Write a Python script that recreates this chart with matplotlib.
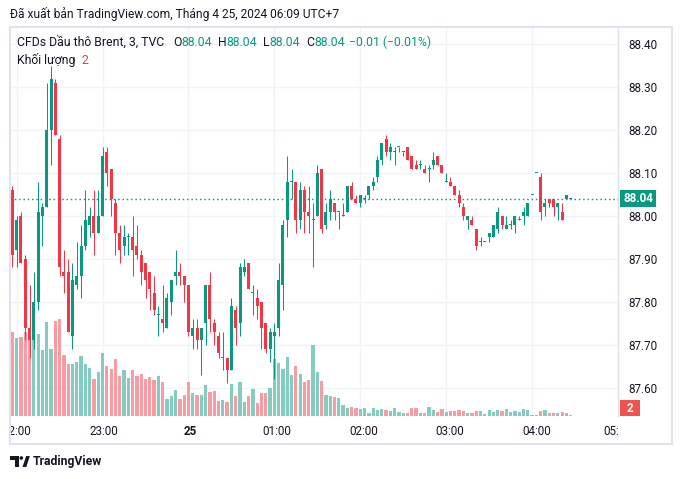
import numpy as np
import matplotlib
matplotlib.use("Agg")
import matplotlib.pyplot as plt
from matplotlib.patches import Rectangle, Polygon, Circle
from matplotlib.transforms import IdentityTransform

plt.rcParams['font.family'] = ['Roboto', 'DejaVu Sans']

# Brent CFD, 3-minute bars. bar 0 = 22:00, the first bar shown is 21:57
first_bar = -1

opens = [88.06, 87.92, 88.00, 87.90, 87.74, 87.71, 87.80, 88.00, 88.02, 88.20,
         88.31, 88.18, 87.87, 87.87, 87.72, 87.84, 87.86, 87.93, 87.98, 88.00,
         87.96, 88.00, 88.15, 88.11, 88.03, 87.96, 87.93, 87.95, 87.95, 87.93,
         87.91, 87.89, 87.87, 87.82, 87.77, 87.76, 87.74, 87.80, 87.86, 87.87,
         87.86, 87.84, 87.72, 87.74, 87.71, 87.75, 87.84, 87.75, 87.72, 87.67,
         87.67, 87.64, 87.78, 87.75, 87.87, 87.89, 87.82, 87.81, 87.80, 87.75,
         87.69, 87.72, 87.74, 87.84, 87.99, 88.08, 88.08, 87.99, 88.06, 88.01,
         87.99, 88.00, 88.11, 87.98, 88.01, 88.03, 88.01, 88.00, 88.01, 88.07,
         88.04, 88.03, 88.04, 88.05, 88.07, 88.09, 88.13, 88.18, 88.15, 88.15,
         88.16, 88.15, 88.16, 88.14, 88.12, 88.12, 88.11, 88.11, 88.12, 88.14,
         88.12, 88.08, 88.08, 88.07, 88.05, 88.02, 87.99, 87.99, 87.97, 87.94,
         87.94, 87.95, 87.95, 87.97, 88.00, 87.97, 87.98, 87.98, 87.99, 88.00,
         88.00, 88.05, 88.10, 88.09, 88.02, 88.04, 88.04, 88.02, 88.01, 88.04,
         88.04]
highs = [88.07, 88.00, 88.01, 87.91, 87.84, 87.87, 88.08, 88.03, 88.31, 88.35,
         88.32, 88.19, 87.92, 87.90, 87.89, 87.94, 87.98, 88.06, 88.02, 88.06,
         88.06, 88.16, 88.16, 88.11, 88.04, 87.98, 87.98, 87.96, 88.00, 87.98,
         87.92, 87.89, 87.87, 87.86, 87.79, 87.84, 87.82, 87.85, 87.92, 87.89,
         87.86, 87.84, 87.76, 87.76, 87.74, 87.84, 87.87, 87.76, 87.73, 87.73,
         87.67, 87.81, 87.79, 87.89, 87.90, 87.89, 87.84, 87.83, 87.80, 87.75,
         87.74, 87.75, 87.89, 87.99, 88.14, 88.11, 88.08, 88.08, 88.07, 88.07,
         88.03, 88.12, 88.11, 88.03, 88.06, 88.03, 88.01, 88.03, 88.07, 88.08,
         88.05, 88.05, 88.05, 88.07, 88.09, 88.14, 88.17, 88.19, 88.17, 88.16,
         88.16, 88.15, 88.16, 88.14, 88.13, 88.13, 88.12, 88.12, 88.15, 88.14,
         88.12, 88.10, 88.09, 88.07, 88.06, 88.03, 88.00, 88.00, 87.97, 87.95,
         87.94, 87.96, 87.98, 88.02, 88.00, 88.00, 87.99, 88.00, 88.00, 88.02,
         88.03, 88.05, 88.10, 88.10, 88.04, 88.04, 88.04, 88.03, 88.03, 88.05,
         88.04]
lows = [87.88, 87.88, 87.89, 87.71, 87.67, 87.69, 87.78, 87.93, 88.02, 88.12,
        88.19, 87.86, 87.82, 87.73, 87.69, 87.83, 87.81, 87.92, 87.95, 87.91,
        87.96, 88.00, 88.07, 88.00, 87.91, 87.89, 87.91, 87.91, 87.86, 87.90,
        87.84, 87.81, 87.78, 87.77, 87.72, 87.73, 87.74, 87.77, 87.84, 87.84,
        87.80, 87.72, 87.69, 87.69, 87.63, 87.70, 87.73, 87.70, 87.67, 87.64,
        87.61, 87.64, 87.70, 87.72, 87.86, 87.83, 87.77, 87.76, 87.69, 87.68,
        87.66, 87.62, 87.72, 87.78, 87.95, 88.04, 87.96, 87.97, 87.96, 87.96,
        87.88, 88.00, 87.96, 87.97, 87.99, 87.99, 87.97, 88.00, 88.01, 88.04,
        88.03, 88.02, 88.03, 88.04, 88.06, 88.08, 88.12, 88.14, 88.13, 88.12,
        88.15, 88.14, 88.13, 88.11, 88.11, 88.11, 88.10, 88.08, 88.11, 88.12,
        88.10, 88.08, 88.07, 88.05, 88.02, 87.99, 87.97, 87.98, 87.92, 87.93,
        87.94, 87.94, 87.95, 87.96, 87.97, 87.97, 87.97, 87.96, 87.99, 87.98,
        88.00, 88.05, 88.10, 87.99, 88.00, 88.02, 88.00, 87.99, 87.99, 88.04,
        88.04]
closes = [87.91, 87.99, 87.89, 87.74, 87.71, 87.80, 88.01, 88.02, 88.20, 88.32,
          88.19, 87.88, 87.86, 87.73, 87.85, 87.86, 87.93, 87.99, 88.00, 87.96,
          88.00, 88.14, 88.10, 88.04, 87.96, 87.92, 87.95, 87.95, 87.92, 87.91,
          87.87, 87.85, 87.83, 87.78, 87.77, 87.75, 87.81, 87.85, 87.87, 87.86,
          87.84, 87.73, 87.74, 87.71, 87.74, 87.84, 87.76, 87.73, 87.68, 87.67,
          87.64, 87.79, 87.74, 87.88, 87.88, 87.83, 87.82, 87.79, 87.74, 87.69,
          87.73, 87.73, 87.85, 87.98, 88.08, 88.08, 87.99, 88.06, 88.01, 88.00,
          87.99, 88.10, 87.97, 88.01, 88.04, 88.01, 88.01, 88.00, 88.07, 88.04,
          88.03, 88.05, 88.04, 88.07, 88.08, 88.13, 88.17, 88.15, 88.16, 88.15,
          88.16, 88.15, 88.13, 88.11, 88.11, 88.12, 88.10, 88.11, 88.13, 88.12,
          88.10, 88.08, 88.07, 88.05, 88.03, 88.00, 88.00, 87.98, 87.93, 87.94,
          87.94, 87.96, 87.98, 88.01, 87.98, 87.98, 87.98, 88.00, 87.99, 88.01,
          88.03, 88.05, 88.10, 88.01, 88.03, 88.03, 88.02, 88.03, 87.99, 88.05,
          88.04]
volumes = [169, 157, 158, 169, 164, 164, 164, 133, 189, 134,
           191, 195, 122, 104, 104, 108, 120, 104, 96, 74,
           88, 126, 100, 94, 114, 80, 92, 76, 92, 80,
           84, 74, 78, 72, 80, 68, 34, 40, 52, 34,
           42, 68, 46, 42, 42, 62, 48, 50, 30, 32,
           28, 64, 40, 68, 28, 40, 54, 26, 46, 46,
           56, 114, 106, 94, 118, 82, 100, 84, 68, 72,
           142, 88, 70, 42, 40, 38, 36, 22, 16, 18,
           16, 14, 16, 6, 16, 12, 14, 12, 10, 16,
           8, 6, 6, 16, 16, 6, 6, 18, 12, 8,
           14, 8, 10, 10, 12, 10, 6, 6, 10, 10,
           4, 12, 8, 12, 10, 14, 8, 10, 8, 14,
           12, 2, 2, 10, 12, 6, 6, 6, 8, 6,
           2]

hour_bars = [0, 20, 40, 60, 80, 100, 120, 140]
hour_labels = ["22:00", "23:00", "25", "01:00", "02:00", "03:00", "04:00", "05:00"]
price_ticks = [87.60, 87.70, 87.80, 87.90, 88.00, 88.10, 88.20, 88.30, 88.40]

UP = '#089981'
DOWN = '#f23645'
UP_VOL = '#84ccc0'
DOWN_VOL = '#f89ba2'
TXT = '#131722'

W, H = 682, 479
fig = plt.figure(figsize=(W / 100, H / 100), dpi=100)
fig.patch.set_facecolor('white')


def rect(l, t, r, b):
    # pixel box (y measured from the top) -> figure fraction
    return [l / W, 1 - b / H, (r - l) / W, (b - t) / H]


x = np.arange(len(closes)) + first_bar
o = np.array(opens)
c = np.array(closes)
up = c >= o
vol_up = up.copy()
vol_up[-1] = closes[-1] >= closes[-2]  # live bar ticked down vs prior close

xlim = (-1.55, 138.77)
ylim = (87.5338, 88.4406)

ax_bg = fig.add_axes(rect(10, 27, 618, 416))
ax_vol = ax_bg.twinx()
ax_px = ax_bg.twinx()

ax_bg.set_xlim(*xlim)
ax_bg.set_ylim(*ylim)
ax_bg.set_xticks(hour_bars)
ax_bg.set_yticks(price_ticks)
ax_bg.grid(True, color='#f0f3fa', lw=1)
ax_bg.tick_params(left=False, bottom=False, labelleft=False, labelbottom=False)

# volume pane: 2 contracts per pixel
ax_vol.set_ylim(0, 389 * 2)
ax_vol.bar(x, volumes, width=0.76, color=np.where(vol_up, UP_VOL, DOWN_VOL), lw=0)
ax_vol.yaxis.set_visible(False)

ax_px.set_ylim(*ylim)
colors = np.where(up, UP, DOWN)
ax_px.vlines(x, lows, highs, colors=colors, lw=0.75)
min_h = (ylim[1] - ylim[0]) / 389
body = np.maximum(np.abs(c - o), min_h)
ax_px.bar(x, body, bottom=np.minimum(o, c), width=0.7, color=colors, lw=0)
ax_px.axhline(closes[-1], color=UP, lw=1.0, dashes=(1.1, 2.0))
ax_px.set_yticks(price_ticks)
ax_px.set_yticklabels([f"{p:.2f}" for p in price_ticks])
ax_px.tick_params(axis='y', length=0, pad=7.2, labelsize=8.4, labelcolor=TXT)

for a in (ax_bg, ax_vol, ax_px):
    for s in a.spines.values():
        s.set_visible(False)

# time scale (the last label is pushed in from the edge, then cut by the price scale)
ax_t = fig.add_axes(rect(10, 416, 618, 443))
ax_t.set_xlim(*xlim)
ax_t.set_ylim(0, 1)
ax_t.axis('off')
for b, lab in zip(hour_bars, hour_labels):
    nudge = -6 if b > xlim[1] else 0
    ax_t.annotate(lab, xy=(b, 0.44), xytext=(nudge, 0), textcoords='offset pixels',
                  ha='center', va='center', fontsize=8.4, color=TXT,
                  fontweight='bold' if lab == "25" else 'normal',
                  annotation_clip=False, clip_on=True)

# frame and price scale border
fig.add_artist(Rectangle((10, H - 444), 662, 417, transform=IdentityTransform(),
                         fill=False, ec='#e0e3eb', lw=1.5))
fig.add_artist(plt.Line2D([618, 618], [H - 416, H - 27], transform=IdentityTransform(),
                          color='#e0e3eb', lw=1))

# last price and volume labels on the price scale
yd = ax_px.transData.transform((0, closes[-1]))[1]
fig.add_artist(Rectangle((620, yd - 8.5), 36, 17, transform=IdentityTransform(),
                         color=UP, lw=0))
fig.text(638 / W, yd / H, f"{closes[-1]:.2f}", ha='center', va='center',
         color='white', fontsize=8.4, fontweight='bold')
fig.add_artist(Rectangle((620, H - 416), 20, 16, transform=IdentityTransform(),
                         color='#ef5350', lw=0))
fig.text(630 / W, (H - 408) / H, f"{volumes[-1]}", ha='center', va='center',
         color='white', fontsize=8.4, fontweight='bold')

renderer = fig.canvas.get_renderer()


def fit(t, width_px):
    w = t.get_window_extent(renderer).width
    t.set_fontsize(t.get_fontsize() * width_px / w)


def after(prev, s, color, gap=0, size=8.9):
    return ax_px.annotate(s, xy=(1, 0), xycoords=prev, xytext=(gap, 0),
                          textcoords='offset pixels', ha='left', va='bottom',
                          color=color, fontsize=size, annotation_clip=False)


hdr = fig.text(10 / W, 1 - 14.3 / H,
               "Đã xuất bản TradingView.com, Tháng 4 25, 2024 06:09 UTC+7",
               ha='left', va='center', fontsize=8.4, color=TXT)
fit(hdr, 327)

title = fig.text(17.3 / W, 1 - 42.3 / H, "CFDs Dầu thô Brent, 3, TVC",
                 ha='left', va='center', fontsize=8.9, color=TXT)
fit(title, 148)
fs = title.get_fontsize()

last = f"{closes[-1]:.2f}"
chg = closes[-1] - closes[-2]
for px, letter in [(173.3, "O"), (218, "H"), (263, "L"), (306, "C")]:
    t = fig.text(px / W, 1 - 42.3 / H, letter, ha='left', va='center',
                 fontsize=fs, color=TXT)
    after(t, last, UP, size=fs)
fig.text(349 / W, 1 - 42.3 / H,
         f"\u2212{abs(chg):.2f} (\u2212{abs(chg) / closes[-2] * 100:.2f}%)",
         ha='left', va='center', fontsize=fs, color=UP)

kl = fig.text(17.3 / W, 1 - 59.7 / H, "Khối lượng", ha='left', va='center',
              fontsize=fs, color=TXT)
after(kl, f"{volumes[-1]}", DOWN, gap=6, size=fs)

# TradingView logo
def P(pts):
    return [(px, H - py) for px, py in pts]


fig.add_artist(Polygon(P([(10, 456), (18.5, 456), (18.5, 467), (14.8, 467),
                          (14.8, 459.6), (10, 459.6)]),
                       transform=IdentityTransform(), color=TXT, lw=0))
fig.add_artist(Circle((21.3, H - 458), 1.8, transform=IdentityTransform(), color=TXT, lw=0))
fig.add_artist(Polygon(P([(22.5, 467), (26.2, 456), (29.8, 456), (26.3, 467)]),
                       transform=IdentityTransform(), color=TXT, lw=0))
logo = fig.text(33 / W, 1 - 462 / H, "TradingView", ha='left', va='center',
                fontsize=9.5, fontweight='bold', color=TXT)
fit(logo, 70)

fig.savefig('out.png', dpi=100, facecolor='white')
